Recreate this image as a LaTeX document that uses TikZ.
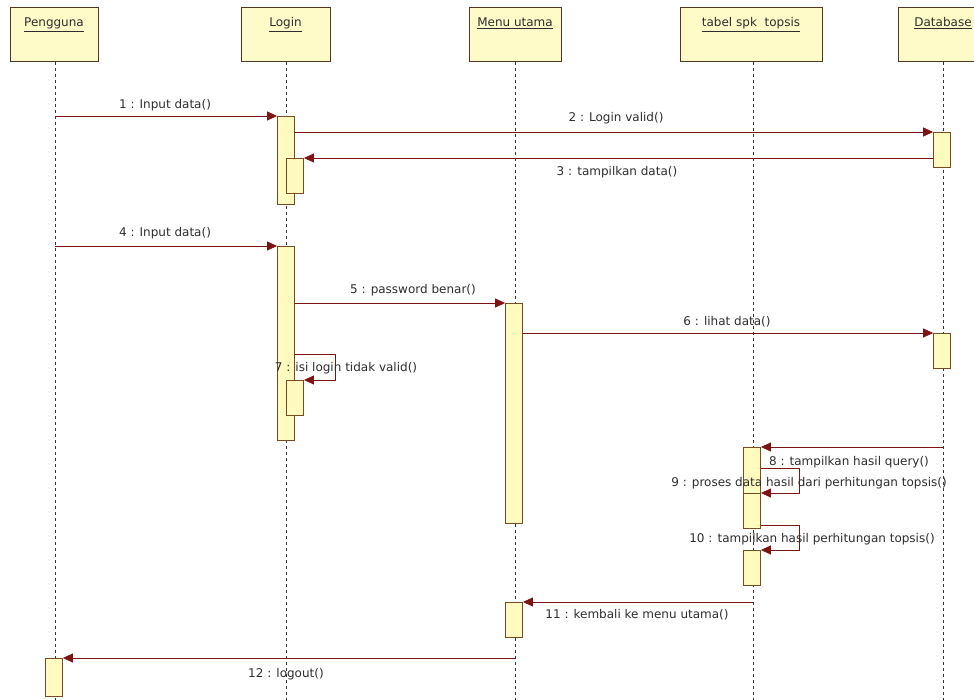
\documentclass[tikz,border=0pt]{standalone}
\usepackage{fontspec}
\setmainfont{DejaVu Sans}
\usetikzlibrary{arrows.meta}
\definecolor{headfill}{RGB}{255,251,200}
\definecolor{headdraw}{RGB}{80,55,35}
\definecolor{actfill}{RGB}{255,250,190}
\definecolor{actdraw}{RGB}{120,75,35}
\definecolor{msgcol}{RGB}{125,20,20}
\definecolor{txtcol}{RGB}{45,45,45}
\begin{document}
\begin{tikzpicture}[x=1pt,y=-1pt,
  headbox/.style={draw=headdraw,fill=headfill,line width=1pt,minimum height=54pt,inner sep=0pt},
  headtxt/.style={text=txtcol,font=\fontsize{12}{14}\selectfont,anchor=base},
  lifeline/.style={draw=black!80,dashed,dash pattern=on 3pt off 3pt,line width=0.8pt},
  act/.style={draw=actdraw,fill=actfill,line width=0.8pt,minimum width=17pt,inner sep=0pt},
  msg/.style={draw=msgcol,line width=0.8pt,-{Triangle[length=10pt,width=9pt,fill=msgcol]}},
  lbl/.style={text=txtcol,font=\fontsize{12}{14}\selectfont,inner sep=0pt}]
\useasboundingbox (0,0) rectangle (974,700);
% heads
\node[headbox,minimum width=88pt] (hp) at (54,35) {};
\node[headbox,minimum width=89pt] (hl) at (285.5,35) {};
\node[headbox,minimum width=92pt] (hm) at (515,35) {};
\node[headbox,minimum width=142pt] (ht) at (751,35) {};
\node[headbox,minimum width=90pt] (hd) at (943,35) {};
\node[headtxt] (tp) at (54,27) {\underline{Pengguna}};
\node[headtxt] (tl) at (285.5,27) {\underline{Login}};
\node[headtxt] (tm) at (515,27) {\underline{Menu utama}};
\node[headtxt] (tt) at (751,27) {\underline{tabel spk\ \ topsis}};
\node[headtxt] (td) at (943,27) {\underline{Database}};
% lifelines
\coordinate (lp) at (55,62); \coordinate (lpe) at (55,700);
\coordinate (ll) at (286,62); \coordinate (lle) at (286,700);
\coordinate (lm) at (515,62); \coordinate (lme) at (515,700);
\coordinate (lt) at (753,62); \coordinate (lte) at (753,700);
\coordinate (ld) at (943,62); \coordinate (lde) at (943,700);
\draw[lifeline] (lp) -- (lpe);
\draw[lifeline] (ll) -- (lle);
\draw[lifeline] (lm) -- (lme);
\draw[lifeline] (lt) -- (lte);
\draw[lifeline] (ld) -- (lde);
% activations
\node[act,minimum height=88pt,anchor=north] (a1) at (286,116) {};
\node[act,minimum height=35pt,anchor=north] (a1n) at (295,158) {};
\node[act,minimum height=35pt,anchor=north] (d1) at (942,132) {};
\node[act,minimum height=194pt,anchor=north] (a2) at (286,246) {};
\node[act,minimum height=220pt,anchor=north] (m1) at (514,303) {};
\node[act,minimum height=35pt,anchor=north] (d2) at (942,333) {};
\node[act,minimum height=35pt,anchor=north] (a2n) at (295,380) {};
\node[act,minimum height=81pt,anchor=north] (t1) at (752,447) {};
\node[act,minimum height=35pt,anchor=north] (t2) at (752,493) {};
\node[act,minimum height=35pt,anchor=north] (t3) at (752,550) {};
\node[act,minimum height=35pt,anchor=north] (m2) at (514,602) {};
\node[act,minimum height=38pt,anchor=north] (p1) at (54,658) {};
% messages
\draw[msg] (lp |- a1.north) -- (a1.north west);
\draw[msg] (a1.east |- d1.north) -- (d1.north west);
\draw[msg] (d1.west |- a1n.north) -- (a1n.north east);
\draw[msg] (lp |- a2.north) -- (a2.north west);
\draw[msg] (a2.east |- m1.north) -- (m1.north west);
\draw[msg] (m1.east |- d2.north) -- (d2.north west);
\coordinate (s7) at (a2.east |- 0,354);
\draw[msg] (s7) -- ++(40,0) |- (a2n.north east);
\draw[msg] (ld |- t1.north) -- (t1.north east);
\coordinate (s9) at (t1.east |- 0,468);
\draw[msg] (s9) -- ++(38,0) |- (t2.north east);
\coordinate (s10) at (t2.east |- 0,525);
\draw[msg] (s10) -- ++(38,0) |- (t3.north east);
\draw[msg] (lt |- m2.north) -- (m2.north east);
\draw[msg] (lm |- p1.north) -- (p1.north east);
% labels
\node[lbl] (L1) at (165,105) {1 : Input data()};
\node[lbl] (L2) at (616,118) {2 : Login valid()};
\node[lbl] (L3) at (617,172) {3 : tampilkan data()};
\node[lbl] (L4) at (165,233) {4 : Input data()};
\node[lbl] (L5) at (413,290) {5 : password benar()};
\node[lbl] (L6) at (727,322) {6 : lihat data()};
\node[lbl] (L7) at (346,368) {7 : isi login tidak valid()};
\node[lbl] (L8) at (849,462) {8 : tampilkan hasil query()};
\node[lbl] (L9) at (809,483) {9 : proses data hasil dari perhitungan topsis()};
\node[lbl] (L10) at (812,539) {10 : tampilkan hasil perhitungan topsis()};
\node[lbl] (L11) at (637,615) {11 : kembali ke menu utama()};
\node[lbl] (L12) at (286,674) {12 : logout()};
\end{tikzpicture}
\end{document}
